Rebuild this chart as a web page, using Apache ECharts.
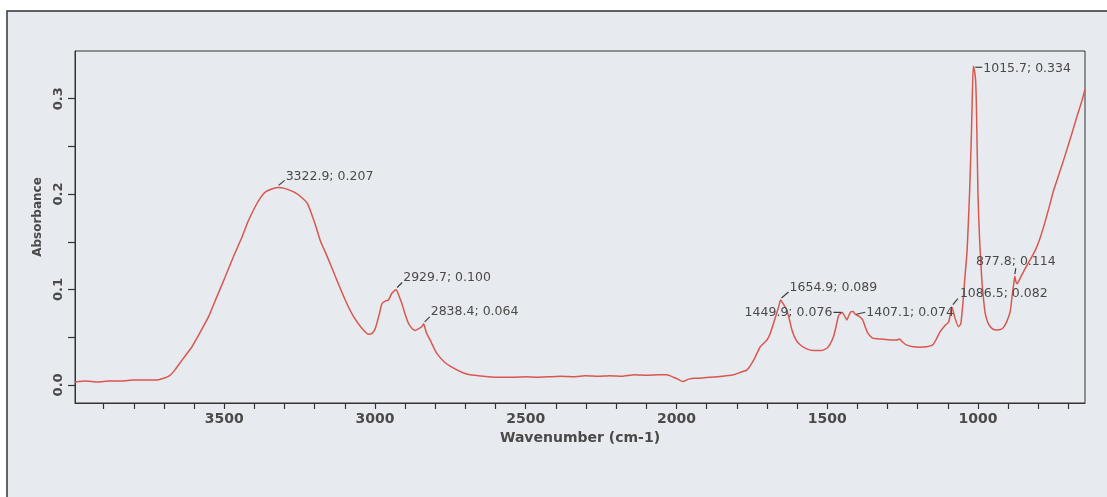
<!DOCTYPE html>
<html>
<head>
<meta charset="utf-8">
<script src="https://cdn.jsdelivr.net/npm/echarts@6/dist/echarts.min.js"></script>
<style>
html,body{margin:0;padding:0;background:#ffffff;}
#chart{width:1107px;height:497px;}
</style>
</head>
<body>
<div id="chart"></div>
<script>
// ---- data ----
const wavenumbers = [
  3995,3960,3920,3880,3840,3800,3760,3730,3700,3680,3663,3640,3607,3580,3552,3525,3497,3470,3441,3420,
  3397,3380,3364,3345,3322.9,3300,3268,3245,3224,3200,3180,3159,3137,3115,3093,3071,3045,3021,3010,2999,
  2985,2977,2965,2955,2944,2929.7,2920,2911,2900,2889,2877,2867,2855,2845,2838.4,2830,2817,2805,2795,2770,
  2739,2710,2684,2640,2600,2574,2540,2500,2460,2420,2380,2340,2300,2260,2220,2180,2140,2100,2060,2032,
  2010,1995,1979,1960,1940,1922,1890,1855,1811,1789,1766,1744,1722,1700,1690,1678,1661,1654.9,1648,1634,
  1625,1617,1605,1590,1570,1545,1520,1501,1490,1479,1470,1462,1449.9,1442,1435,1428,1421,1414,1407.1,1395,
  1382,1373,1365,1349,1320,1290,1270,1260,1250,1238,1215,1194,1170,1150,1138,1127,1110,1097,1086.5,1078,
  1065,1057,1050,1044,1036,1028,1022,1019,1015.7,1012,1008,1005,1000,995,990,986,980,976,968,959,
  948,937,926,916,905,893,886,881,877.8,874,870,860,850,840,827,810,795,780,765,749,
  730,716,690,672,655,645
];
const absorbance = [
  0.003,0.004,0.003,0.004,0.004,0.005,0.005,0.005,0.007,0.010,0.016,0.026,0.040,0.055,0.0715,0.092,0.113,0.134,0.155,0.172,
  0.187,0.196,0.202,0.205,0.207,0.206,0.202,0.197,0.190,0.170,0.150,0.135,0.118,0.101,0.085,0.0715,0.060,0.053,0.054,0.059,
  0.075,0.085,0.088,0.089,0.096,0.100,0.093,0.0855,0.074,0.0646,0.059,0.057,0.059,0.061,0.064,0.055,0.047,0.039,0.033,0.024,
  0.0175,0.013,0.0105,0.009,0.008,0.008,0.008,0.0085,0.008,0.0085,0.009,0.0085,0.0095,0.009,0.0095,0.009,0.0105,0.010,0.0105,0.0105,
  0.008,0.006,0.0035,0.006,0.007,0.007,0.008,0.0087,0.0105,0.013,0.0157,0.026,0.040,0.047,0.053,0.0646,0.082,0.089,0.086,0.0785,
  0.068,0.0576,0.048,0.042,0.038,0.036,0.036,0.0384,0.043,0.0506,0.062,0.073,0.076,0.072,0.068,0.073,0.0768,0.077,0.074,0.072,
  0.068,0.060,0.054,0.049,0.048,0.047,0.047,0.048,0.045,0.042,0.040,0.0395,0.040,0.042,0.048,0.055,0.062,0.066,0.082,0.072,
  0.061,0.064,0.085,0.110,0.141,0.200,0.260,0.300,0.334,0.330,0.320,0.290,0.200,0.155,0.125,0.105,0.085,0.075,0.066,0.061,
  0.058,0.0576,0.058,0.060,0.066,0.077,0.095,0.107,0.114,0.108,0.106,0.112,0.118,0.124,0.131,0.141,0.153,0.168,0.185,0.204,
  0.222,0.2356,0.262,0.281,0.298,0.310
];
const peakWavenumbers = [3322.9, 2929.7, 2838.4, 1654.9, 1449.9, 1407.1, 1086.5, 877.8, 1015.7];
const peakAbsorbance  = [0.207, 0.100, 0.064, 0.089, 0.076, 0.074, 0.082, 0.114, 0.334];
const peakLabels = ['3322.9; 0.207','2929.7; 0.100','2838.4; 0.064','1654.9; 0.089','1449.9; 0.076',
                    '1407.1; 0.074','1086.5; 0.082','877.8; 0.114','1015.7; 0.334'];
const xLabelValues = [1000, 1500, 2000, 2500, 3000, 3500];
const xTickValues = [700,800,900,1000,1100,1200,1300,1400,1500,1600,1700,1800,1900,2000,2100,2200,2300,
                     2400,2500,2600,2700,2800,2900,3000,3100,3200,3300,3400,3500,3600,3700,3800,3900];
const yLabelValues = [0, 0.1, 0.2, 0.3];
const yTickValues = [0, 0.05, 0.1, 0.15, 0.2, 0.25, 0.3];

// ---- annotation leader/label layout (pixel offsets from the peak) ----
const annotLayout = [
  {l:[[1,-2],[7,-7]],  t:[8,-11], align:'left'},
  {l:[[1,-2],[6,-7]],  t:[7,-12], align:'left'},
  {l:[[1,-2],[6,-7]],  t:[7,-12], align:'left'},
  {l:[[1,-2],[8,-8]],  t:[9,-12], align:'left'},
  {l:[[-1,0],[-9,0]],  t:[-10,0], align:'right'},
  {l:[[1,0],[10,-2]],  t:[11,-2], align:'left'},
  {l:[[1,-2],[6,-8]],  t:[8,-13], align:'left'},
  {l:[[0,-2],[1,-8]],  t:[1,-14], align:'center'},
  {l:[[2,1],[9,1]],    t:[10,2],  align:'left'}
];

const chart = echarts.init(document.getElementById('chart'), null, {renderer:'canvas'});
const axisTextColor = '#4a4a4a';
const option = {
  backgroundColor: '#ffffff',
  animation: false,
  graphic: [
    {type:'rect', z:-100, silent:true, shape:{x:7, y:11, width:1200, height:600},
     style:{fill:'#e7ebef', stroke:'#333333', lineWidth:1.5}}
  ],
  grid: {left:75, top:51, right:22, bottom:94, show:true, borderColor:'#333333', borderWidth:1, backgroundColor:'transparent'},
  xAxis: {
    type:'value', inverse:true, min:645, max:3995,
    name:'Wavenumber (cm-1)', nameLocation:'middle', nameGap:27,
    nameTextStyle:{fontFamily:'DejaVu Sans', fontSize:14, fontWeight:'bold', color:axisTextColor},
    axisLine:{show:true, onZero:false, lineStyle:{color:'#333333', width:1}},
    axisTick:{show:true, length:6, customValues:xTickValues, lineStyle:{color:'#333333', width:1.2}},
    axisLabel:{customValues:xLabelValues, margin:9, fontFamily:'DejaVu Sans', fontSize:14, fontWeight:'bold', color:axisTextColor,
               formatter: v => String(Math.round(v))},
    splitLine:{show:false}
  },
  yAxis: {
    type:'value', min:-0.019, max:0.35,
    name:'Absorbance', nameLocation:'middle', nameGap:29,
    nameTextStyle:{fontFamily:'DejaVu Sans', fontSize:12, fontWeight:'bold', color:axisTextColor, padding:[0,0,0,20]},
    axisLine:{show:true, onZero:false, lineStyle:{color:'#333333', width:1}},
    axisTick:{show:true, length:7, customValues:yTickValues, lineStyle:{color:'#333333', width:1.2}},
    axisLabel:{customValues:yLabelValues, rotate:90, margin:10, fontFamily:'DejaVu Sans', fontSize:13, fontWeight:'bold', color:axisTextColor,
               formatter: v => v.toFixed(1)},
    splitLine:{show:false}
  },
  series: [
    {
      type:'line', name:'spectrum', showSymbol:false, smooth:0.15, z:3,
      lineStyle:{color:'#d9574e', width:1.5},
      data: wavenumbers.map((w,i)=>[w, absorbance[i]])
    },
    {
      type:'custom', name:'peaks', z:4, clip:false,
      encode:{x:0, y:1},
      data: peakWavenumbers.map((w,i)=>[w, peakAbsorbance[i]]),
      renderItem: function(params, api){
        const i = params.dataIndex;
        const p = api.coord([api.value(0), api.value(1)]);
        const L = annotLayout[i];
        return {type:'group', children:[
          {type:'polyline', shape:{points:[[p[0]+L.l[0][0], p[1]+L.l[0][1]],[p[0]+L.l[1][0], p[1]+L.l[1][1]]]},
           style:{stroke:'#3c3c3c', lineWidth:1.2, fill:null}},
          {type:'text', x:p[0]+L.t[0], y:p[1]+L.t[1],
           style:{text:peakLabels[i], fill:'#4a4a4a', font:'12.5px "DejaVu Sans"',
                  align:L.align, textAlign:L.align, verticalAlign:'middle', textVerticalAlign:'middle'}}
        ]};
      }
    }
  ]
};
chart.setOption(option);
</script>
</body>
</html>
